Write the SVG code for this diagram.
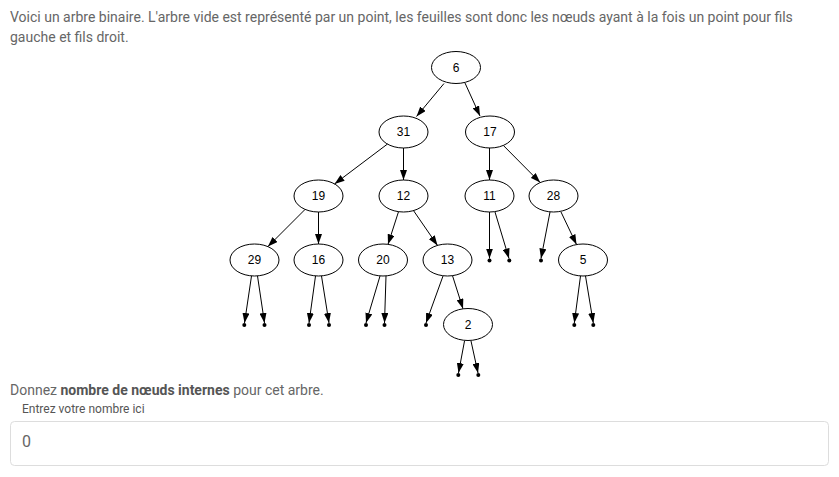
<svg xmlns="http://www.w3.org/2000/svg" width="839" height="477" viewBox="0 0 839 477">
<defs>
<marker id="ah" markerUnits="userSpaceOnUse" markerWidth="10" markerHeight="7" refX="10" refY="3.5" orient="auto">
<path d="M0,0 L10,3.5 L0,7 z" fill="#000"/>
</marker>
<style>
.txt{font-family:Roboto,"Liberation Sans",sans-serif;fill:#666;font-size:14px}
.b{font-weight:bold;fill:#555}
.nd ellipse{fill:none;stroke:#000;stroke-width:1}
.nd text{font-family:"Liberation Sans",Arial,sans-serif;font-size:12px;fill:#000;text-anchor:middle}
.e line{stroke:#000;stroke-width:1;marker-end:url(#ah)}
.dot{fill:#000}
</style>
</defs>
<rect width="839" height="477" fill="#fff"/>
<text class="txt" x="10" y="22">Voici un arbre binaire. L'arbre vide est représenté par un point, les feuilles sont donc les nœuds ayant à la fois un point pour fils</text>
<text class="txt" x="10" y="42">gauche et fils droit.</text>

<g id="connectors" class="e">
<line x1="444" y1="83.5" x2="416.5" y2="116.5"/>
<line x1="465" y1="83" x2="480" y2="116"/>
<line x1="387.4" y1="144.1" x2="334.6" y2="183.9"/>
<line x1="403.5" y1="148" x2="403.5" y2="180"/>
<line x1="489.5" y1="148" x2="489.5" y2="180"/>
<line x1="503.3" y1="145.4" x2="540.2" y2="182.6"/>
<line x1="305.1" y1="209.4" x2="267.9" y2="246.6"/>
<line x1="318.5" y1="212" x2="318.5" y2="244"/>
<line x1="398.5" y1="211.7" x2="388" y2="244.3"/>
<line x1="413.5" y1="210.6" x2="437.5" y2="245.4"/>
<line x1="452.5" y1="275.7" x2="463" y2="308.8"/>
<line x1="251.5" y1="276" x2="244.5" y2="323"/>
<line x1="257.5" y1="276" x2="264.5" y2="323"/>
<line x1="315.5" y1="276" x2="309" y2="323"/>
<line x1="321.5" y1="276" x2="329" y2="323"/>
<line x1="380" y1="276" x2="366" y2="323"/>
<line x1="386" y1="276" x2="384.5" y2="323"/>
<line x1="443" y1="276" x2="426" y2="323"/>
<line x1="464.5" y1="341" x2="458.5" y2="373"/>
<line x1="471" y1="341" x2="478" y2="373"/>
<line x1="489.5" y1="212" x2="489.5" y2="258.5"/>
<line x1="495" y1="212" x2="509" y2="258.5"/>
<line x1="550" y1="212" x2="541" y2="258.5"/>
<line x1="561" y1="212" x2="576.5" y2="244.5"/>
<line x1="580.5" y1="276" x2="574.3" y2="323"/>
<line x1="585.5" y1="276" x2="593.3" y2="323"/>
</g>
<g id="points" class="dot">
<circle cx="244.3" cy="325" r="2"/>
<circle cx="264.5" cy="325" r="2"/>
<circle cx="309" cy="325" r="2"/>
<circle cx="329" cy="325" r="2"/>
<circle cx="366" cy="325" r="2"/>
<circle cx="384.5" cy="325" r="2"/>
<circle cx="426" cy="325" r="2"/>
<circle cx="458.3" cy="375" r="2"/>
<circle cx="478.3" cy="375" r="2"/>
<circle cx="489.5" cy="260.5" r="2"/>
<circle cx="509.3" cy="260.5" r="2"/>
<circle cx="541" cy="260.5" r="2"/>
<circle cx="574.3" cy="325" r="2"/>
<circle cx="593.3" cy="325" r="2"/>
</g>

<g id="n6" class="nd"><ellipse cx="456" cy="67.5" rx="24.5" ry="16"/><text x="456" y="71.5">6</text></g>
<g id="n31" class="nd"><ellipse cx="403.5" cy="132" rx="24.5" ry="16"/><text x="403.5" y="136">31</text></g>
<g id="n17" class="nd"><ellipse cx="490" cy="132" rx="24.5" ry="16"/><text x="490" y="136">17</text></g>
<g id="n19" class="nd"><ellipse cx="318.5" cy="196" rx="24.5" ry="16"/><text x="318.5" y="200">19</text></g>
<g id="n12" class="nd"><ellipse cx="403.5" cy="196" rx="24.5" ry="16"/><text x="403.5" y="200">12</text></g>
<g id="n11" class="nd"><ellipse cx="489.5" cy="196" rx="24.5" ry="16"/><text x="489.5" y="200">11</text></g>
<g id="n28" class="nd"><ellipse cx="553.5" cy="196" rx="24.5" ry="16"/><text x="553.5" y="200">28</text></g>
<g id="n29" class="nd"><ellipse cx="254.5" cy="260" rx="24.5" ry="16"/><text x="254.5" y="264">29</text></g>
<g id="n16" class="nd"><ellipse cx="318.5" cy="260" rx="24.5" ry="16"/><text x="318.5" y="264">16</text></g>
<g id="n20" class="nd"><ellipse cx="383" cy="260" rx="24.5" ry="16"/><text x="383" y="264">20</text></g>
<g id="n13" class="nd"><ellipse cx="447.5" cy="260" rx="24.5" ry="16"/><text x="447.5" y="264">13</text></g>
<g id="n5" class="nd"><ellipse cx="583" cy="260" rx="24.5" ry="16"/><text x="583" y="264">5</text></g>
<g id="n2" class="nd"><ellipse cx="468" cy="324.5" rx="24.5" ry="16"/><text x="468" y="328.5">2</text></g>

<text class="txt" x="10" y="395">Donnez <tspan class="b">nombre de nœuds internes</tspan> pour cet arbre.</text>
<text class="txt" x="22" y="413" style="font-size:12px;fill:#555">Entrez votre nombre ici</text>
<rect x="10.5" y="421.5" width="818" height="44" rx="4" fill="#fff" stroke="#ddd"/>
<text class="txt" x="22" y="447" style="font-size:16px">0</text>
</svg>
